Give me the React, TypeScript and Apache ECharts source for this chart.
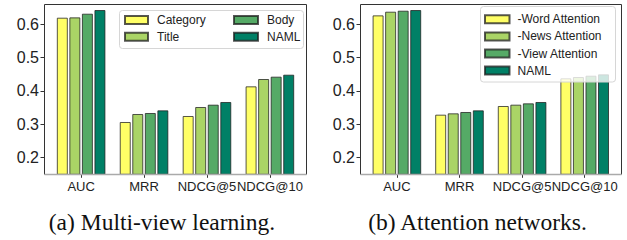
import React, { useEffect, useRef } from "react";
import * as echarts from "echarts";

const categories = ["AUC", "MRR", "NDCG@5", "NDCG@10"];
const multiViewNames = ["Category", "Title", "Body", "NAML"];
const categoryVals = [0.62, 0.307, 0.325, 0.414];
const titleVals = [0.621, 0.331, 0.352, 0.436];
const bodyVals = [0.632, 0.334, 0.359, 0.443];
const namlVals = [0.643, 0.342, 0.367, 0.449];
const attnNames = ["-Word Attention", "-News Attention", "-View Attention", "NAML"];
const noWordVals = [0.627, 0.329, 0.355, 0.438];
const noNewsVals = [0.638, 0.333, 0.359, 0.442];
const noViewVals = [0.641, 0.337, 0.363, 0.446];
const namlAttnVals = [0.643, 0.342, 0.367, 0.45];
const yTicks = [0.2, 0.3, 0.4, 0.5, 0.6];
const colors = ["#ffff66", "#aad466", "#55aa66", "#008066"];
const captions = ["(a) Multi-view learning.", "(b) Attention networks."];

const SANS = "Liberation Sans, Arial, sans-serif";
const SERIF = "Liberation Serif, Times New Roman, serif";

export default function App() {
  const ref = useRef<HTMLDivElement>(null);
  useEffect(() => {
    if (!ref.current) return;
    const chart = echarts.init(ref.current, null, { renderer: "svg" });

    const frames = [
      { x0: 44.5, x1: 306.5 },
      { x0: 360.5, x1: 621.5 },
    ];
    const yTop = 4.5;
    const yBot = 174.5;

    const mkBar = (name: string, data: number[], i: number, idx: number) => ({
      type: "bar",
      name,
      xAxisIndex: idx,
      yAxisIndex: idx,
      data,
      barWidth: 11,
      barGap: "14%",
      itemStyle: {
        color: colors[i],
        borderColor: "rgba(30,30,30,0.75)",
        borderWidth: 1,
      },
      z: 2,
    });

    const series: any[] = [];
    [categoryVals, titleVals, bodyVals, namlVals].forEach((d, i) =>
      series.push(mkBar(multiViewNames[i], d, i, 0))
    );
    [noWordVals, noNewsVals, noViewVals, namlAttnVals].forEach((d, i) =>
      series.push(mkBar(attnNames[i], d, i, 1))
    );

    const mkX = (idx: number) => ({
      type: "category",
      gridIndex: idx,
      data: categories,
      axisLine: { show: false },
      axisTick: { show: true, alignWithLabel: true, length: 3.5, lineStyle: { color: "#333" } },
      axisLabel: {
        interval: 0,
        hideOverlap: false,
        fontSize: 13,
        fontFamily: SANS,
        color: "#222",
        margin: 6,
      },
    });
    const mkY = (idx: number, off: number) => ({
      type: "value",
      gridIndex: idx,
      min: 0.15,
      max: 0.659,
      offset: off,
      splitLine: { show: false },
      axisLine: { show: false },
      axisTick: { show: true, length: 3.5, customValues: yTicks, lineStyle: { color: "#333" } },
      axisLabel: {
        customValues: yTicks,
        fontSize: 16,
        fontFamily: SANS,
        color: "#222",
        margin: 5,
        formatter: (v: number) => v.toFixed(1),
      },
    });

    const graphics: any[] = [];
    frames.forEach((f) => {
      const st = { stroke: "#333", lineWidth: 1 };
      graphics.push({ type: "line", z: 50, shape: { x1: f.x0, y1: yTop, x2: f.x1, y2: yTop }, style: st });
      graphics.push({ type: "line", z: 50, shape: { x1: f.x0, y1: yTop, x2: f.x0, y2: yBot }, style: st });
      graphics.push({ type: "line", z: 50, shape: { x1: f.x1, y1: yTop, x2: f.x1, y2: yBot }, style: st });
      graphics.push({
        type: "line",
        z: 50,
        shape: { x1: f.x0, y1: yBot, x2: f.x1, y2: yBot },
        style: { stroke: "#aaa", lineWidth: 1.5 },
      });
    });
    // legend boxes
    graphics.push({
      type: "rect",
      z: 30,
      shape: { x: 119.5, y: 10.5, width: 184, height: 38, r: 3 },
      style: { fill: "rgba(255,255,255,0.8)", stroke: "#d6d6d6", lineWidth: 1 },
    });
    graphics.push({
      type: "rect",
      z: 30,
      shape: { x: 480.5, y: 6.5, width: 135, height: 75.5, r: 3 },
      style: { fill: "rgba(255,255,255,0.8)", stroke: "#d6d6d6", lineWidth: 1 },
    });
    // captions
    graphics.push({
      type: "text",
      x: 162,
      y: 222,
      style: {
        text: captions[0],
        font: `23.5px ${SERIF}`,
        fill: "#111",
        textAlign: "center",
        textVerticalAlign: "middle",
      },
    });
    graphics.push({
      type: "text",
      x: 477.5,
      y: 222,
      style: {
        text: captions[1],
        font: `23.5px ${SERIF}`,
        fill: "#111",
        textAlign: "center",
        textVerticalAlign: "middle",
      },
    });

    const legendBase = {
      orient: "vertical",
      icon: "rect",
      itemHeight: 8,
      padding: 0,
      z: 40,
      selectedMode: false,
      textStyle: {
        fontSize: 12,
        fontFamily: SANS,
        color: "#222",
        lineHeight: 14,
        padding: [0, 0, 0, 4],
      },
    };

    chart.setOption({
      animation: false,
      backgroundColor: "#fff",
      grid: [
        { left: 49.66, top: 4.7, width: 251.7, height: 169.6 },
        { left: 365.6, top: 4.7, width: 250.4, height: 169.6 },
      ],
      xAxis: [mkX(0), mkX(1)],
      yAxis: [mkY(0, 5.66), mkY(1, 5.6)],
      legend: [
        { ...legendBase, data: multiViewNames.slice(0, 2), left: 124, top: 13, itemWidth: 23, itemGap: 2.7 },
        { ...legendBase, data: multiViewNames.slice(2, 4), left: 233, top: 13, itemWidth: 24, itemGap: 2.7 },
        {
          ...legendBase,
          data: attnNames,
          left: 484,
          top: 12.3,
          itemWidth: 24.5,
          itemGap: 3.1,
          textStyle: { ...legendBase.textStyle, padding: [0, 0, 0, 3] },
        },
      ],
      graphic: graphics,
      series,
    });
    return () => chart.dispose();
  }, []);
  return (
    <div
      ref={ref}
      style={{ position: "fixed", left: 0, top: 0, width: 627, height: 240, background: "#fff" }}
    />
  );
}
